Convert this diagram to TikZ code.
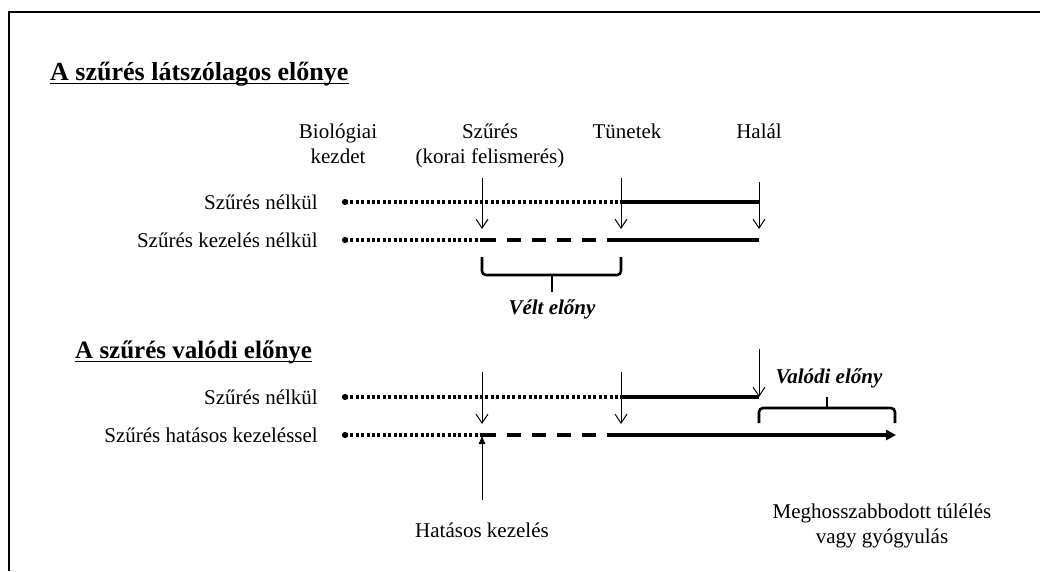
\documentclass[tikz,border=0pt]{standalone}
\usepackage{fontspec}
\setmainfont{Liberation Serif}
\usetikzlibrary{arrows.meta}
% two-line centred label whose baseline is that of its first line
\newcommand{\twoline}[2]{\begin{tabular}[t]{@{}c@{}}#1\\#2\end{tabular}}
\begin{document}
\begin{tikzpicture}[x=1pt,y=-1pt,
  lbl/.style={inner sep=0pt, font=\fontsize{21}{25.5}\selectfont},
  toplbl/.style={lbl, anchor=base},
  rowlbl/.style={lbl, anchor=base east},
  gain/.style={lbl, anchor=base, font=\fontsize{21}{25.5}\selectfont\bfseries\itshape},
  heading/.style={inner sep=0pt, anchor=base west, font=\fontsize{25}{30}\selectfont\bfseries},
  dotline/.style={line width=3.1pt, dash pattern=on 2.9pt off 2.5pt},
  dashline/.style={line width=3.2pt, dash pattern=on 14pt off 11pt},
  solidline/.style={line width=3.2pt},
  marker/.style={-{Straight Barb[length=9pt,width=12pt]}, line width=1pt},
  brace/.style={line width=2.6pt, rounded corners=4pt},
  startdot/.style={circle, fill, inner sep=0pt, minimum size=6.2pt},
]
\useasboundingbox (0,0) rectangle (1040,571);

% frame
\draw[line width=2.2pt] (9,571) -- (9,12) -- (1040,12);

% ---------- apparent benefit ----------
\node[heading, font=\fontsize{26}{30}\selectfont\bfseries] (h1) at (50,80) {A szűrés látszólagos előnye};
\draw[line width=1.6pt] ([yshift=-3.5pt]h1.base west) -- ([yshift=-3.5pt]h1.base east);

\node[toplbl] (bio) at (338,138) {\twoline{Biológiai}{kezdet}};
\node[toplbl] (scr) at (490,138) {\twoline{Szűrés}{(korai felismerés)}};
\node[toplbl] (sym) at (627,138) {Tünetek};
\node[toplbl] (dth) at (759,138) {Halál};

\node[rowlbl] (r1) at (318,209) {Szűrés nélkül};
\node[rowlbl] (r2) at (318,247) {Szűrés kezelés nélkül};

\coordinate (s1) at (345,202); \coordinate (a1) at (482,202);
\coordinate (t1) at (621,202); \coordinate (d1) at (759,202);
\coordinate (s2) at (345,240); \coordinate (a2) at (482,240);
\coordinate (t2) at (621,240); \coordinate (d2) at (759,240);

\draw[dotline] (s1) -- (t1);
\draw[solidline] (t1) -- (d1);
\draw[dotline] (s2) -- (a2);
\draw[dashline] (a2) -- (t2);
\draw[solidline] (t2) -- (d2);
\node[startdot] (o1) at (s1) {};
\node[startdot] (o2) at (s2) {};

\coordinate (m1) at (482,178); \coordinate (m1t) at (482,229);
\coordinate (m2) at (621,178); \coordinate (m2t) at (621,229);
\coordinate (m3) at (759,182); \coordinate (m3t) at (759,229);
\draw[marker] (m1) -- (m1t);
\draw[marker] (m2) -- (m2t);
\draw[marker] (m3) -- (m3t);

\draw[brace] (482,257) -- (482,275) -- (621,275) -- (621,257);
\draw[line width=2.6pt] (552,275) -- (552,292);
\node[gain] (vg) at (552,314) {Vélt előny};

% ---------- real benefit ----------
\node[heading] (h2) at (75,358) {A szűrés valódi előnye};
\draw[line width=1.6pt] ([yshift=-3.5pt]h2.base west) -- ([yshift=-3.5pt]h2.base east);

\node[rowlbl] (r3) at (318,404) {Szűrés nélkül};
\node[rowlbl] (r4) at (318,442) {Szűrés hatásos kezeléssel};

\coordinate (s3) at (345,397); \coordinate (t3) at (621,397); \coordinate (d3) at (759,397);
\coordinate (s4) at (345,435); \coordinate (a4) at (482,435);
\coordinate (t4) at (621,435); \coordinate (d4) at (759,435); \coordinate (e4) at (896,435);

\draw[dotline] (s3) -- (t3);
\draw[solidline] (t3) -- (d3);
\draw[dotline] (s4) -- (a4);
\draw[dashline] (a4) -- (t4);
\draw[solidline] (t4) -- (d4);
\draw[solidline, -{Triangle[length=10pt,width=10pt]}] (d4) -- (e4);
\node[startdot] (o3) at (s3) {};
\node[startdot] (o4) at (s4) {};

\coordinate (n1) at (482,372); \coordinate (n1t) at (482,424);
\coordinate (n2) at (621,372); \coordinate (n2t) at (621,424);
\coordinate (n3) at (759,349); \coordinate (n3t) at (759,397);
\draw[marker] (n1) -- (n1t);
\draw[marker] (n2) -- (n2t);
\draw[marker] (n3) -- (n3t);

\draw[brace] (759,423) -- (759,408) -- (895,408) -- (895,423);
\draw[line width=2.6pt] (827,408) -- (827,397);
\node[gain] (rg) at (829,383) {Valódi előny};

\node[toplbl] (trt) at (482,537) {Hatásos kezelés};
\coordinate (u0) at (482,500);
\draw[line width=1pt, -{Latex[length=9pt,width=7pt]}] (u0) -- (a4);
\node[toplbl] (out) at (882,518) {\twoline{Meghosszabbodott túlélés}{vagy gyógyulás}};
\end{tikzpicture}
\end{document}
